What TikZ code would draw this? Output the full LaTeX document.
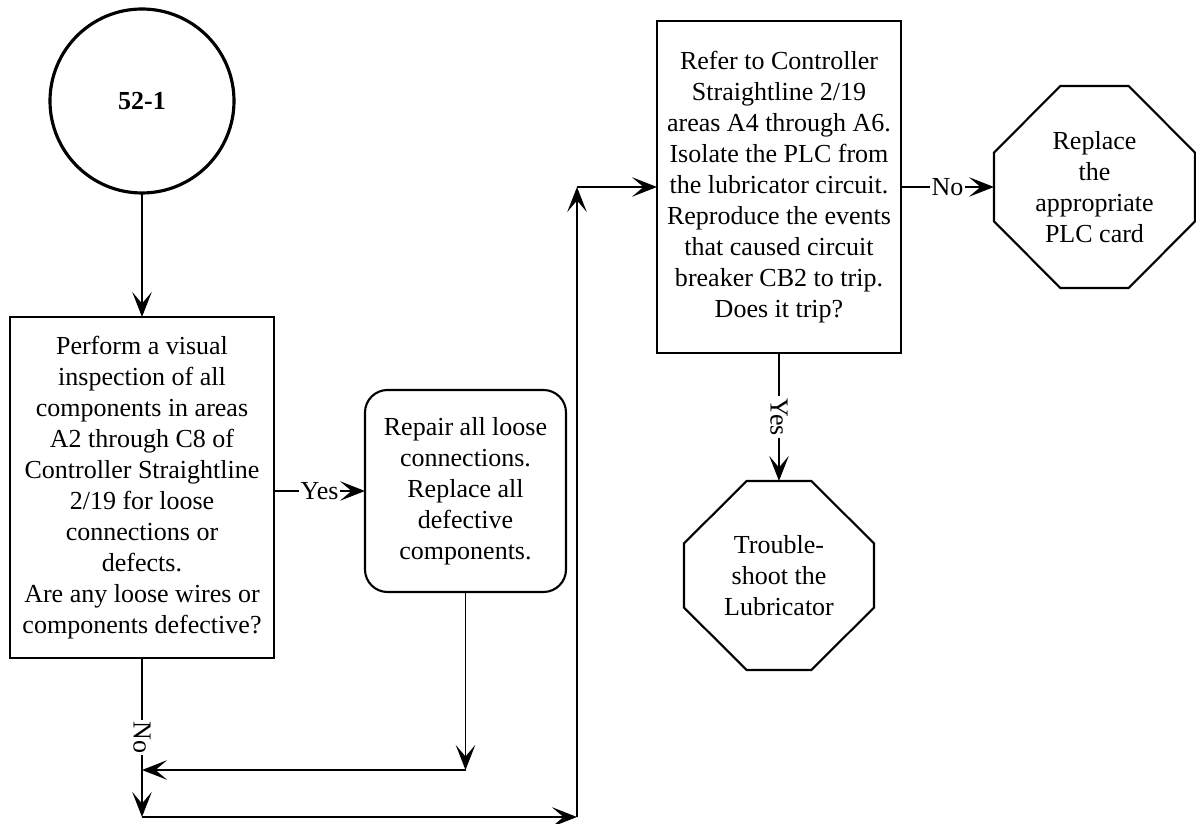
\documentclass[tikz,border=0pt]{standalone}
\usepackage{fontspec}
\setmainfont{Liberation Serif}
\usetikzlibrary{arrows.meta,calc}
\tikzset{
  base/.style={font=\fontsize{14.8}{17.6}\selectfont, align=center, outer sep=0pt},
  outline/.style={line width=1.2pt, line join=miter},
  flow/.style={line width=1.1pt, -{Stealth[length=5mm, width=3.9mm, inset=2.3mm]}},
  terminal/.style={base, circle, draw, line width=1.8pt, minimum size=3.68cm,
    font=\fontsize{14.8}{17.6}\selectfont\bfseries},
  task/.style={base, rectangle, draw, outline},
  action/.style={task, rounded corners=0.45cm},
  endpoint/.style={base, rectangle, inner sep=0pt},
  tag/.style={base, fill=white, inner sep=1pt}
}
% chamfered outline round an endpoint node, corners cut at a third of each side
\newcommand{\octframe}[1]{%
  \draw[outline] ($(#1.north west)!.33!(#1.north east)$) -- ($(#1.north west)!.67!(#1.north east)$)
    -- ($(#1.north east)!.33!(#1.south east)$) -- ($(#1.north east)!.67!(#1.south east)$)
    -- ($(#1.south east)!.33!(#1.south west)$) -- ($(#1.south east)!.67!(#1.south west)$)
    -- ($(#1.south west)!.33!(#1.north west)$) -- ($(#1.south west)!.67!(#1.north west)$) -- cycle;
}

\begin{document}
\begin{tikzpicture}[x=1cm,y=1cm]
\useasboundingbox (0,0) rectangle (23.92,16.48);
\fill[white] (0,0) rectangle (23.92,16.48);

\node[terminal] (start) at (2.84,14.46) {52-1};
\node[task, minimum width=5.28cm, minimum height=6.82cm] (inspect) at (2.84,6.73)
  {Perform a visual\\inspection of all\\components in areas\\A2 through C8 of\\Controller Straightline\\2/19 for loose\\connections or\\defects.\\Are any loose wires or\\components defective?};
\node[action, minimum width=4.02cm, minimum height=4.04cm] (repair) at (9.31,6.66)
  {Repair all loose\\connections.\\Replace all\\defective\\components.};
\node[task, minimum width=4.88cm, minimum height=6.64cm] (isolate) at (15.58,12.74)
  {Refer to Controller\\Straightline 2/19\\areas A4 through A6.\\Isolate the PLC from\\the lubricator circuit.\\Reproduce the events\\that caused circuit\\breaker CB2 to trip.\\Does it trip?};
\node[endpoint, minimum width=4.02cm, minimum height=4.04cm] (plc) at (21.89,12.74)
  {Replace\\the\\appropriate\\PLC card};
\node[endpoint, minimum width=3.8cm, minimum height=3.78cm] (lube) at (15.58,4.97)
  {Trouble-\\shoot the\\Lubricator};
\octframe{plc}
\octframe{lube}

% junctions of the return lines
\coordinate (rjoin) at (9.31,1.08);
\coordinate (ljoin) at (inspect.south |- rjoin);
\coordinate (nobend) at (2.84,0.14);
\coordinate (rbend) at (11.54,0.14);
\coordinate (rtop) at (rbend |- isolate.west);

\draw[flow] (start) -- (inspect);
\draw[flow] (inspect.east |- repair.west) -- node[tag] {Yes} (repair.west);
\draw[flow] (repair.south) -- (rjoin);
\draw[flow] (rjoin) -- (ljoin);
\draw[flow] (inspect.south) -- node[tag, rotate=-90] {No} (nobend);
\draw[flow] (nobend) -- (rbend);
\draw[flow] (rbend) -- (rtop);
\draw[flow] (rtop) -- (isolate.west);
\draw[flow] (isolate.east) -- node[tag] {No} (plc.west);
\draw[flow] (isolate.south) -- node[tag, rotate=-90] {Yes} (lube.north);
\end{tikzpicture}
\end{document}
